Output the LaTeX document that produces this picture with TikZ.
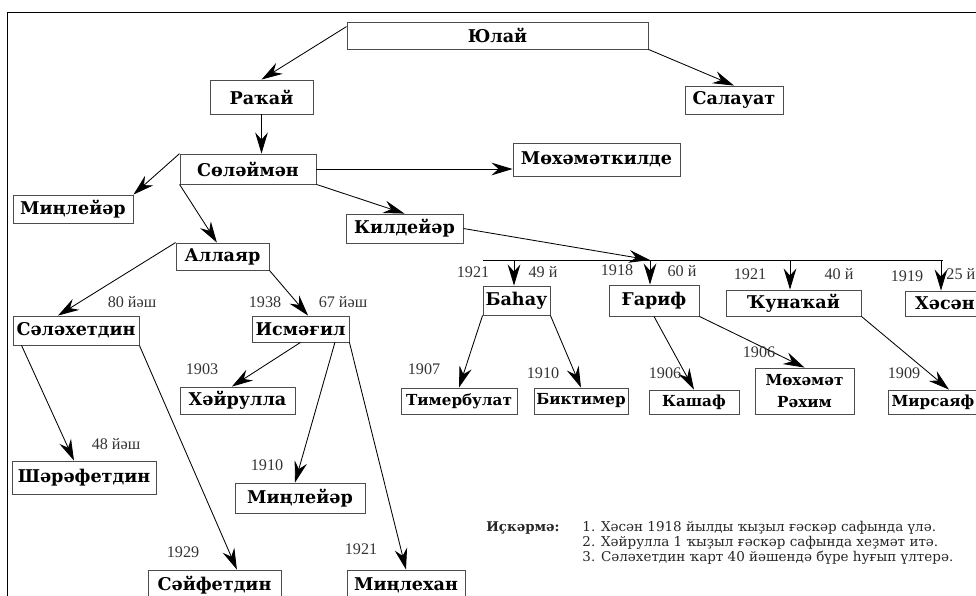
\documentclass[tikz,border=0pt]{standalone}
\usepackage{fontspec}
\setmainfont{DejaVu Serif}
\newfontfamily\yearfont{Liberation Serif}
\usetikzlibrary{arrows.meta}

\begin{document}
\begin{tikzpicture}[x=0.025cm, y=-0.025cm, line width=0.6pt,
    >={Stealth[length=15pt,width=9pt,inset=5pt]}]
\tikzstyle{box}=[draw=black!70, inner sep=0pt, align=center,
    font=\bfseries\fontsize{12.5}{14}\selectfont]
\tikzstyle{low}=[box, font=\bfseries\fontsize{10.8}{16}\selectfont]
\tikzstyle{year}=[inner sep=0pt, text=black!80,
    font=\yearfont\fontsize{11.5}{13}\selectfont]

\useasboundingbox (0,0) rectangle (976,595);
\clip (0,0) rectangle (976,595);
\draw [line width=0.7pt] (7,700) -- (7,12) -- (1100,12);

% first generations
\node (julai) at (497.5, 35.5) [box, minimum width=7.525cm, minimum height=0.675cm] {Юлай};
\node (rakai) at (261.5, 97) [box, minimum width=2.575cm, minimum height=0.85cm] {Раҡай};
\node (salauat) at (734, 100) [box, minimum width=2.45cm, minimum height=0.7cm] {Салауат};
\node (soleiman) at (248, 169) [box, minimum width=3.4cm, minimum height=0.75cm] {Сөләймән};
\node (mohamatkilde) at (596.5, 159.5) [box, minimum width=4.175cm, minimum height=0.825cm] {Мөхәмәткилде};
\node (minleyar) at (73, 209) [box, minimum width=3cm, minimum height=0.7cm] {Миңлейәр};
\node (kildeyar) at (404.5, 228.5) [box, minimum width=2.925cm, minimum height=0.725cm] {Килдейәр};
\node (allayar) at (222.5, 256.5) [box, minimum width=2.325cm, minimum height=0.675cm] {Аллаяр};

% Allayar's line
\node (salahetdin) at (76, 330.5) [box, minimum width=3.15cm, minimum height=0.725cm] {Сәләхетдин};
\node (ismagil) at (300.5, 329) [box, minimum width=2.425cm, minimum height=0.65cm] {Исмәғил};
\node (hayrulla) at (237.5, 400.5) [box, minimum width=2.875cm, minimum height=0.675cm] {Хәйрулла};
\node (sharafetdin) at (84, 477.5) [box, minimum width=3.6cm, minimum height=0.825cm] {Шәрәфетдин};
\node (minleyar2) at (300, 498) [box, minimum width=3.25cm, minimum height=0.75cm] {Миңлейәр};
\node (sayfetdin) at (214.5, 585) [box, minimum width=3.325cm, minimum height=0.75cm] {Сәйфетдин};
\node (minlehan) at (406, 585) [box, minimum width=2.95cm, minimum height=0.75cm] {Миңлехан};

% Kildeyar's line
\node (bahau) at (516.5, 300.5) [box, minimum width=1.675cm, minimum height=0.725cm] {Баһау};
\node (garif) at (654, 300.5) [box, minimum width=2.25cm, minimum height=0.775cm] {Ғариф};
\node (kunakai) at (793.5, 303) [box, minimum width=3.375cm, minimum height=0.65cm] {Ҡунаҡай};
\node (hasan) at (945, 303.5) [box, minimum width=2cm, minimum height=0.625cm] {Хәсән};
\node (timerbulat) at (459, 401) [low, minimum width=2.9cm, minimum height=0.65cm] {Тимербулат};
\node (biktimer) at (581, 401) [low, minimum width=2.35cm, minimum height=0.65cm] {Биктимер};
\node (kashaf) at (694, 402) [low, minimum width=2.25cm, minimum height=0.6cm] {Кашаф};
\node (rahim) at (804.5, 391) [low, minimum width=2.475cm, minimum height=1.15cm] {Мөхәмәт\\Рәхим};
\node (mirsayaf) at (933, 402) [low, minimum width=2.25cm, minimum height=0.6cm] {Мирсаяф};

\draw [->] ([yshift=-0.125cm]julai.north west) to (rakai.north);
\draw [->] (julai.south east) to (salauat.north);
\draw [->] (rakai.south) to (rakai.south |- soleiman.north);
\draw [->] (soleiman.east) to (soleiman.east -| mohamatkilde.west);
\draw [->] (soleiman.north west) to (minleyar.north east);
\draw [->] (soleiman.south west) to ([xshift=-0.14cm]allayar.north);
\draw [->] (soleiman.south east) to (kildeyar.north);
\draw [->] (allayar.north west) to ([xshift=-0.45cm]salahetdin.north);
\draw [->] (allayar.south east) to ([xshift=0.19cm]ismagil.north);
\draw [->] (ismagil.south) to ([xshift=-0.14cm]hayrulla.north);
\draw [->] ([xshift=0.86cm]ismagil.south) to ([xshift=-0.125cm]minleyar2.north);
\draw [->] (ismagil.south east) to (minlehan.north);
\draw [->] ([xshift=0.225cm]salahetdin.south west) to ([xshift=-0.25cm]sharafetdin.north);
\draw [->] (salahetdin.south east) to ([xshift=0.56cm]sayfetdin.north);

% bar under Kildeyar
\coordinate (barL) at (483, 260);
\coordinate (barR) at (943, 260);
\coordinate (b1) at (514, 260);
\coordinate (b2) at (650, 260);
\coordinate (b3) at (790, 260);
\coordinate (b4) at (941, 260);
\draw (barL) -- (barR);
\draw [->] (kildeyar.east) to (b2);
\draw [->] (b1) to (b1 |- bahau.north);
\draw [->] (b2) to (b2 |- garif.north);
\draw [->] (b3) to (b3 |- kunakai.north);
\draw [->] (b4) to (b4 |- hasan.north);

\draw [->] (bahau.south west) to (timerbulat.north);
\draw [->] (bahau.south east) to (biktimer.north);
\draw [->] (garif.south) to (kashaf.north);
\draw [->] (garif.south east) to (rahim.north);
\draw [->] (kunakai.south east) to ([xshift=0.4cm]mirsayaf.north);

% years and ages
\node (y1921a) at (473, 272) [year] {1921};
\node (a49) at (543, 272) [year] {49 й};
\node (y1918) at (617, 270) [year] {1918};
\node (a60) at (682, 271) [year] {60 й};
\node (y1921b) at (750, 274) [year] {1921};
\node (a40) at (839, 274) [year] {40 й};
\node (y1919) at (907, 276) [year] {1919};
\node (a25) at (946, 274) [year, anchor=west] {25 й};
\node (a80) at (132, 302) [year] {80 йәш};
\node (y1938) at (265, 302) [year] {1938};
\node (a67) at (343, 302) [year] {67 йәш};
\node (y1903) at (202, 369) [year] {1903};
\node (y1907) at (424, 369) [year] {1907};
\node (a48) at (116, 444) [year] {48 йәш};
\node (y1910a) at (267, 465) [year] {1910};
\node (y1929) at (183, 552) [year] {1929};
\node (y1921c) at (361, 549) [year] {1921};
\node (y1910b) at (543, 373) [year] {1910};
\node (y1906a) at (665, 373) [year] {1906};
\node (y1906b) at (759, 352) [year] {1906};
\node (y1909) at (904, 373) [year] {1909};

% notes
\node (iskarma) at (523, 528) [font=\bfseries\fontsize{9.5}{11}\selectfont, text=black!85, inner sep=0pt] {Иҫкәрмә:};
\node (notes) at (582, 543) [anchor=west, align=left, inner sep=0pt, text=black!85,
    font=\fontsize{9.6}{10.8}\selectfont] {1. Хәсән 1918 йылды ҡыҙыл ғәскәр сафында үлә.\\
    2. Хәйрулла 1 ҡыҙыл ғәскәр сафында хеҙмәт итә.\\
    3. Сәләхетдин ҡарт 40 йәшендә бүре һуғып үлтерә.};

\end{tikzpicture}
\end{document}
